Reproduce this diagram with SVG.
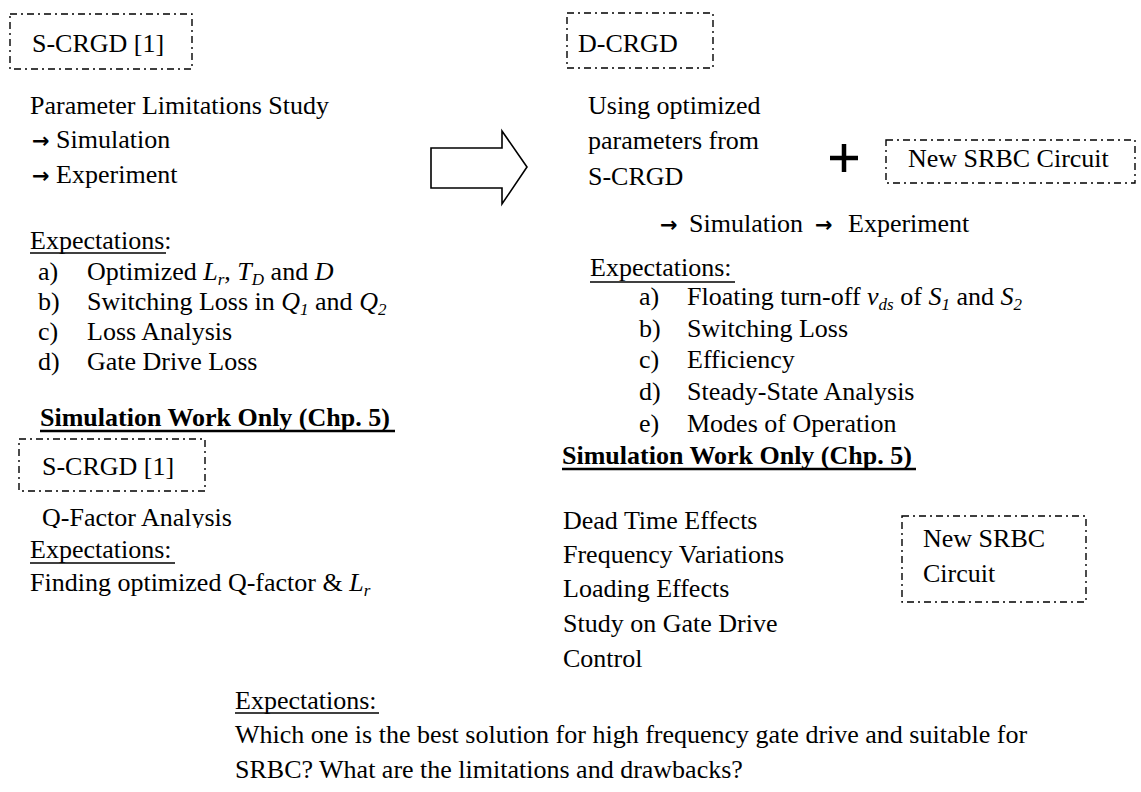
<svg xmlns="http://www.w3.org/2000/svg" width="1141" height="792" viewBox="0 0 1141 792">
<style>
text{font-family:"Liberation Serif","Times New Roman",serif;font-size:26px;fill:#000}
.b{font-weight:bold}
.i{font-style:italic}
.ar{font-family:"DejaVu Sans",sans-serif;font-weight:bold;font-size:21px}
.box{fill:none;stroke:#000;stroke-width:1.4;stroke-dasharray:7 4 2 4}
.ul{stroke:#000;stroke-width:1.4}
.ulb{stroke:#000;stroke-width:2.4}
</style>
<defs>
<clipPath id="qclip"><rect x="0" y="495" width="400" height="33"/></clipPath>
</defs>
<rect width="1141" height="792" fill="#fff"/>

<g id="scrgd-top">
<rect class="box" x="10" y="14" width="182" height="55"/>
<text x="32" y="52">S-CRGD [1]</text>
</g>
<g id="left-plan">
<text x="30" y="114">Parameter Limitations Study</text>
<text x="32" y="148"><tspan class="ar">→</tspan> Simulation</text>
<text x="32" y="183"><tspan class="ar">→</tspan> Experiment</text>
</g>
<g id="left-expect">
<text x="30" y="249">Expectations:</text>
<line class="ul" x1="30" y1="253" x2="166" y2="253"/>
<text x="38" y="280">a)</text>
<text x="87" y="280">Optimized <tspan class="i">L</tspan><tspan class="i" font-size="17" dy="5">r</tspan><tspan dy="-5">, </tspan><tspan class="i">T</tspan><tspan class="i" font-size="17" dy="5">D</tspan><tspan dy="-5"> and </tspan><tspan class="i">D</tspan></text>
<text x="38" y="310">b)</text>
<text x="87" y="310">Switching Loss in <tspan class="i">Q</tspan><tspan class="i" font-size="17" dy="5">1</tspan><tspan dy="-5"> and </tspan><tspan class="i">Q</tspan><tspan class="i" font-size="17" dy="5">2</tspan></text>
<text x="38" y="340">c)</text>
<text x="87" y="340">Loss Analysis</text>
<text x="38" y="370">d)</text>
<text x="87" y="370">Gate Drive Loss</text>
</g>
<g id="left-sim">
<text class="b" x="40" y="426">Simulation Work Only (Chp. 5)</text>
<line class="ulb" x1="40" y1="431" x2="395" y2="431"/>
</g>
<g id="scrgd-bottom">
<rect class="box" x="19" y="439" width="186" height="52"/>
<text x="42" y="475">S-CRGD [1]</text>
</g>
<g id="left-q">
<text x="42" y="526" clip-path="url(#qclip)">Q-Factor Analysis</text>
<text x="30" y="558">Expectations:</text>
<line class="ul" x1="30" y1="563" x2="175" y2="563"/>
<text x="30" y="591">Finding optimized Q-factor &amp; <tspan class="i">L</tspan><tspan class="i" font-size="17" dy="5">r</tspan></text>
</g>

<g id="connectors">
<polygon points="431,148 502,148 502,131 527,167 502,204 502,188 431,188" fill="#fff" stroke="#000" stroke-width="1.6" stroke-linejoin="miter"/>
</g>

<g id="dcrgd">
<rect class="box" x="567" y="13" width="146" height="55"/>
<text x="578" y="52">D-CRGD</text>
</g>
<g id="right-plan">
<text x="588" y="114">Using optimized</text>
<text x="588" y="149">parameters from</text>
<text x="588" y="185">S-CRGD</text>
<path d="M830,158 H858 M844,144 V172" stroke="#000" stroke-width="4.5"/>
<text y="232"><tspan class="ar" x="660">→</tspan><tspan x="689">Simulation</tspan><tspan class="ar" x="815">→</tspan><tspan x="848">Experiment</tspan></text>
</g>
<g id="srbc-top">
<rect class="box" x="886" y="140" width="249" height="43"/>
<text x="908" y="167">New SRBC Circuit</text>
</g>
<g id="right-expect">
<text x="590" y="276">Expectations:</text>
<line class="ul" x1="590" y1="282" x2="735" y2="282"/>
<text x="639" y="305">a)</text>
<text x="687" y="305">Floating turn-off <tspan class="i">v</tspan><tspan class="i" font-size="17" dy="5">ds</tspan><tspan dy="-5"> of </tspan><tspan class="i">S</tspan><tspan class="i" font-size="17" dy="5">1</tspan><tspan dy="-5"> and </tspan><tspan class="i">S</tspan><tspan class="i" font-size="17" dy="5">2</tspan></text>
<text x="639" y="337">b)</text>
<text x="687" y="337">Switching Loss</text>
<text x="639" y="368">c)</text>
<text x="687" y="368">Efficiency</text>
<text x="639" y="400">d)</text>
<text x="687" y="400">Steady-State Analysis</text>
<text x="639" y="432">e)</text>
<text x="687" y="432">Modes of Operation</text>
</g>
<g id="right-sim">
<text class="b" x="562" y="464">Simulation Work Only (Chp. 5)</text>
<line class="ulb" x1="562" y1="469" x2="916" y2="469"/>
<text x="563" y="529">Dead Time Effects</text>
<text x="563" y="563">Frequency Variations</text>
<text x="563" y="597">Loading Effects</text>
<text x="563" y="632">Study on Gate Drive</text>
<text x="563" y="667">Control</text>
</g>
<g id="srbc-bottom">
<rect class="box" x="902" y="516" width="184" height="86"/>
<text x="923" y="547">New SRBC</text>
<text x="923" y="582">Circuit</text>
</g>
<g id="bottom-expect">
<text x="235" y="709">Expectations:</text>
<line class="ul" x1="235" y1="713" x2="379" y2="713"/>
<text x="235" y="743">Which one is the best solution for high frequency gate drive and suitable for</text>
<text x="235" y="778">SRBC? What are the limitations and drawbacks?</text>
</g>
</svg>
